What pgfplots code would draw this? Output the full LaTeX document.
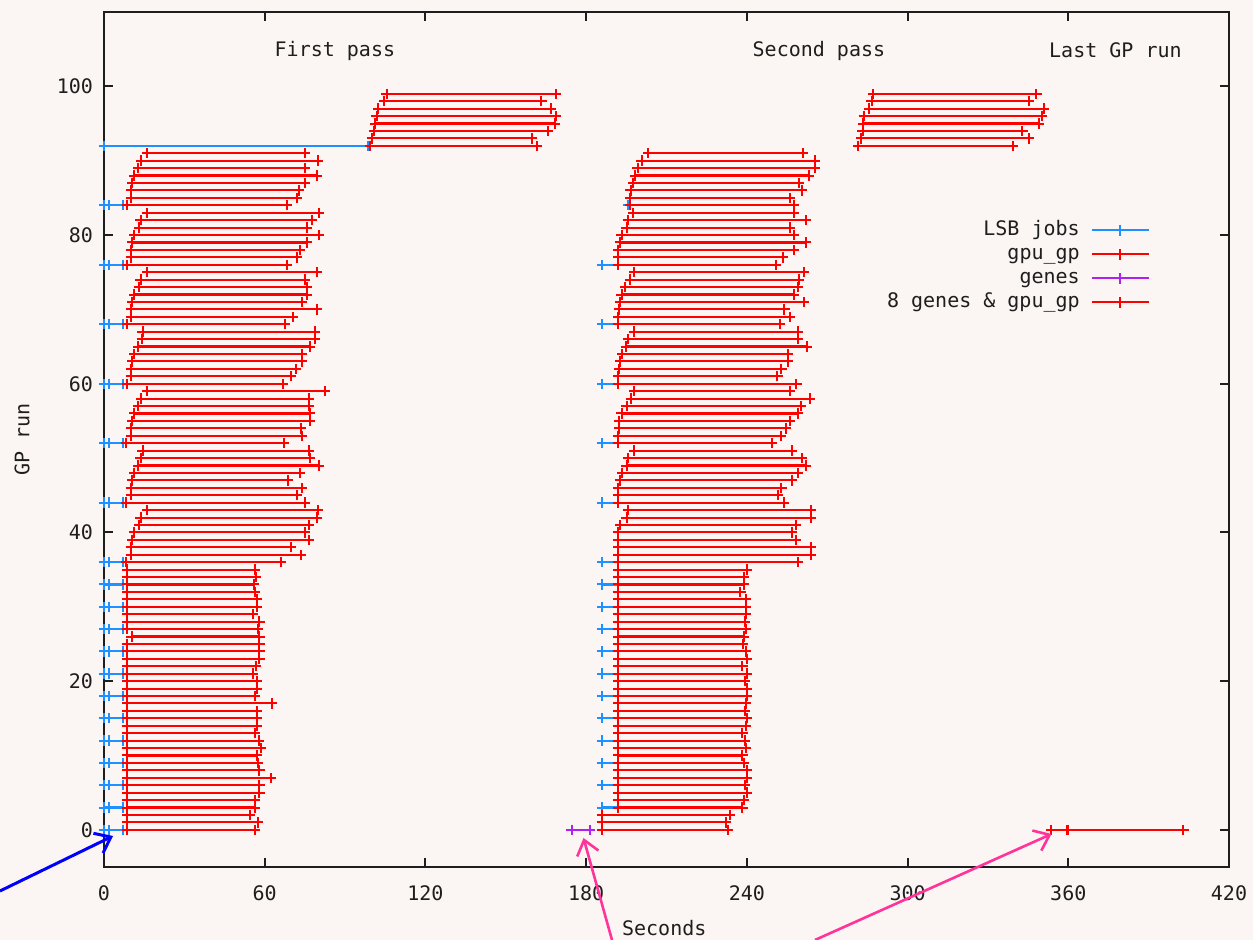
\documentclass[border=0pt]{standalone}
\usepackage{pgfplots}
\pgfplotsset{compat=1.18}
\usepackage{pgfplotstable}
\usepackage{fontspec}
\setmainfont{DejaVu Sans Mono}
\usetikzlibrary{arrows.meta}
\definecolor{bg}{RGB}{251,246,243}
\definecolor{lsb}{RGB}{30,144,255}
\definecolor{gred}{RGB}{255,0,0}
\definecolor{gpur}{RGB}{176,32,240}
\definecolor{pinkarrow}{RGB}{255,51,153}
\definecolor{frame}{RGB}{30,30,30}

% first pass gpu_gp: run, start, end (seconds)
\pgfplotstableread{
r s e
0 8.5 56.4
1 8.5 57.6
2 8.5 54.5
3 8.5 56.4
4 8.5 56.4
5 8.5 58.0
6 8.5 58.0
7 8.5 62.2
8 8.5 58.0
9 8.5 57.6
10 8.5 57.2
11 8.5 58.5
12 8.5 57.9
13 8.5 56.4
14 8.5 57.0
15 8.5 57.0
16 8.5 57.0
17 8.5 62.8
18 8.5 56.4
19 8.5 57.0
20 8.5 57.0
21 8.5 55.7
22 8.5 56.7
23 8.5 58.0
24 8.5 58.0
25 8.5 58.0
26 10.3 58.0
27 8.5 57.6
28 8.5 58.0
29 8.5 55.5
30 8.5 57.0
31 8.5 57.0
32 8.5 56.4
33 8.5 56.1
34 8.5 56.7
35 8.5 56.4
36 8.2 66.1
37 10.0 73.5
38 10.0 69.7
39 10.6 76.5
40 11.3 75.0
41 13.1 76.5
42 13.7 79.4
43 16.2 80.0
44 8.2 75.0
45 10.0 71.9
46 10.0 73.8
47 10.6 68.8
48 11.3 73.2
49 12.8 80.3
50 13.7 76.9
51 14.4 76.5
52 8.2 67.3
53 10.0 74.0
54 10.0 73.5
55 10.6 76.9
56 11.3 76.9
57 12.8 76.5
58 13.8 76.5
59 16.2 82.5
60 8.5 66.7
61 10.0 69.7
62 10.0 71.7
63 10.6 74.0
64 11.3 74.0
65 12.8 76.9
66 14.1 78.8
67 14.4 78.8
68 8.5 67.6
69 10.0 70.4
70 10.0 79.4
71 10.6 73.8
72 11.3 75.6
73 13.1 75.6
74 13.7 75.0
75 16.2 79.4
76 8.5 68.2
77 10.0 71.9
78 10.0 73.2
79 10.6 75.6
80 11.3 80.3
81 13.1 75.6
82 13.7 77.6
83 16.2 80.3
84 8.5 68.2
85 10.0 71.9
86 10.2 72.8
87 10.6 75.0
88 11.3 79.4
89 12.8 75.0
90 13.8 80.0
91 16.2 75.0
92 99.4 161.5
93 100.0 159.6
94 100.8 165.8
95 101.2 168.3
96 101.8 168.7
97 102.4 166.8
98 104.7 163.3
99 105.5 168.7
}\firstpass

% second pass gpu_gp
\pgfplotstableread{
r s e
0 185.9 232.9
1 185.9 232.3
2 185.9 233.8
3 191.9 238.3
4 191.9 238.8
5 191.9 239.9
6 191.9 239.3
7 191.9 239.9
8 191.9 239.9
9 191.9 238.8
10 191.9 238.3
11 191.9 239.6
12 191.9 239.3
13 191.9 238.3
14 191.9 239.6
15 191.9 239.9
16 191.9 239.3
17 191.9 239.6
18 191.9 239.9
19 191.9 239.9
20 191.9 239.3
21 191.9 239.9
22 191.9 238.3
23 191.9 239.9
24 191.9 239.6
25 191.9 238.6
26 191.9 238.8
27 191.9 239.6
28 191.9 239.3
29 191.9 239.6
30 191.9 239.6
31 191.9 239.6
32 191.9 237.6
33 191.9 238.8
34 191.9 238.8
35 191.9 240.1
36 191.9 259.2
37 191.9 263.9
38 191.9 263.9
39 191.9 258.2
40 191.9 256.7
41 192.6 258.2
42 195.1 263.9
43 195.6 263.9
44 191.9 253.8
45 191.9 251.6
46 191.9 252.9
47 192.6 256.7
48 193.5 259.2
49 195.1 262.1
50 195.6 260.4
51 197.9 256.7
52 191.9 249.2
53 191.9 252.7
54 192.4 254.6
55 192.4 256.0
56 193.2 259.2
57 195.1 260.2
58 196.7 263.5
59 197.9 256.0
60 191.9 258.5
61 191.9 251.4
62 192.4 252.9
63 192.6 255.4
64 193.5 255.4
65 194.8 262.3
66 195.6 259.2
67 197.9 259.2
68 191.9 252.3
69 191.9 256.0
70 192.4 254.0
71 192.6 261.4
72 193.2 257.6
73 194.5 259.2
74 196.3 259.5
75 197.9 261.4
76 191.9 250.8
77 191.9 253.6
78 191.9 257.6
79 192.6 262.1
80 193.2 257.6
81 195.1 256.0
82 195.6 262.1
83 197.6 257.6
84 196.3 257.6
85 196.3 256.0
86 196.6 260.4
87 197.6 259.5
88 198.2 263.1
89 199.2 265.4
90 200.7 265.4
91 203.2 261.0
}\secondpass

% last GP run
\pgfplotstableread{
r s e
92 281.6 339.4
93 282.6 345.4
94 283.2 342.9
95 283.5 349.1
96 283.7 350.0
97 285.7 350.9
98 286.6 345.4
99 287.2 348.1
0 360.0 403.0
}\lastrun

% 8 genes & gpu_gp
\pgfplotstableread{
r s e
0 353.7 359.5
}\eightgenes

% genes
\pgfplotstableread{
r s e
0 174.6 181.3
}\genes

% LSB jobs: run, start, end, middle mark
\pgfplotstableread{
r s e m
0 0 7.0 2.0
3 0 7.0 2.0
6 0 7.0 2.0
9 0 7.0 2.0
12 0 7.0 2.0
15 0 7.0 2.0
18 0 7.0 2.0
21 0 7.0 2.0
24 0 7.0 2.0
27 0 7.0 2.0
30 0 7.0 2.0
33 0 7.0 2.0
36 0 7.0 2.0
44 0 7.0 2.0
52 0 7.0 2.0
60 0 7.0 2.0
68 0 7.0 2.0
76 0 7.0 2.0
84 0 7.0 2.0
92 0 98.4 nan
3 186.0 191.9 nan
6 186.0 191.9 nan
9 186.0 191.9 nan
12 186.0 191.9 nan
15 186.0 191.9 nan
18 186.0 191.9 nan
21 186.0 191.9 nan
24 186.0 191.9 nan
27 186.0 191.9 nan
30 186.0 191.9 nan
33 186.0 191.9 nan
36 186.0 191.9 nan
44 186.0 191.9 nan
52 186.0 191.9 nan
60 186.0 191.9 nan
68 186.0 191.9 nan
76 186.0 191.9 nan
84 195.7 196.3 nan
}\lsb

\pgfplotsset{
  seg/.style={only marks, mark=+, color=#1, forget plot,
    mark options={mark size=2.6pt, line width=1pt, #1},
    error bars/x dir=plus, error bars/x explicit, error bars/error mark=+,
    error bars/error bar style={line width=1.05pt, #1},
    error bars/error mark options={mark size=2.6pt, line width=1pt, #1, rotate=90}},
}

\begin{document}
\begin{tikzpicture}
\useasboundingbox (-52pt,-36.5pt) rectangle (574.5pt,433.5pt);
\fill[bg] (-52pt,-36.5pt) rectangle (574.5pt,433.5pt);
\begin{axis}[
  scale only axis, width=562.5pt, height=427.5pt, at={(0,0)}, anchor=south west,
  xmin=0, xmax=420, ymin=-5, ymax=110,
  xtick={0,60,...,420}, ytick={0,20,...,100},
  tick align=inside, major tick length=4.5pt,
  axis line style={line width=1pt, frame},
  every tick/.style={frame, line width=1pt},
  tick label style={font=\fontsize{10}{12}\selectfont, text=frame},
  /pgf/number format/assume math mode=true,
  xticklabel style={yshift=-6pt}, yticklabel style={xshift=-2pt},
  xlabel={Seconds}, ylabel={GP run},
  every axis x label/.style={at={(axis description cs:0.498,-0.0713)}, anchor=center, font=\fontsize{10}{12}\selectfont, text=frame},
  every axis y label/.style={at={(axis description cs:-0.0729,0.5)}, rotate=90, anchor=center, font=\fontsize{10}{12}\selectfont, text=frame},
  clip=false,
  legend image code/.code={\draw[mark repeat=2,mark phase=2,#1] plot coordinates {(0cm,0cm) (0.5cm,0cm) (1cm,0cm)};},
  legend style={at={(axis description cs:0.9298,0.759)}, anchor=north east, draw=none, fill=none, inner sep=0pt,
    font=\fontsize{10}{12}\selectfont, text=frame,
    nodes={inner sep=1pt, text height=7.5pt, text depth=2.5pt},
    /tikz/every odd column/.style={column sep=4.5pt}},
  legend cell align=right, legend plot pos=right,
]
% LSB jobs
\addplot[seg=lsb] table[x=s, y=r, x error expr=\thisrow{e}-\thisrow{s}] {\lsb};
\addplot[only marks, mark=+, lsb, forget plot, mark options={mark size=2.6pt, line width=1pt}] table[x=m, y=r] {\lsb};
% genes
\addplot[seg=gpur] table[x=s, y=r, x error expr=\thisrow{e}-\thisrow{s}] {\genes};
% gpu_gp
\addplot[seg=gred] table[x=s, y=r, x error expr=\thisrow{e}-\thisrow{s}] {\firstpass};
\addplot[seg=gred] table[x=s, y=r, x error expr=\thisrow{e}-\thisrow{s}] {\secondpass};
\addplot[seg=gred] table[x=s, y=r, x error expr=\thisrow{e}-\thisrow{s}] {\lastrun};
\addplot[seg=gred] table[x=s, y=r, x error expr=\thisrow{e}-\thisrow{s}] {\eightgenes};

\addlegendimage{lsb, line width=1pt, mark=+, mark options={mark size=2.6pt}}
\addlegendentry{LSB jobs}
\addlegendimage{gred, line width=1pt, mark=+, mark options={mark size=2.6pt}}
\addlegendentry{gpu\_gp}
\addlegendimage{gpur, line width=1pt, mark=+, mark options={mark size=2.6pt}}
\addlegendentry{genes}
\addlegendimage{gred, line width=1pt, mark=+, mark options={mark size=2.6pt}}
\addlegendentry{8 genes \& gpu\_gp}

\node[font=\fontsize{10}{12}\selectfont, text=frame] at (axis cs:86.2,104.8) {First pass};
\node[font=\fontsize{10}{12}\selectfont, text=frame] at (axis cs:266.9,104.8) {Second pass};
\node[font=\fontsize{10}{12}\selectfont, text=frame] at (axis cs:377.6,104.8) {Last GP run};
\end{axis}
\draw[blue, line width=1.5pt, -{Straight Barb[length=7pt,width=11pt]}] (-52pt,-12pt) -- (4.5pt,15.5pt);
\draw[pinkarrow, line width=1.3pt, -{Straight Barb[length=7pt,width=11pt]}] (254pt,-36.5pt) -- (239.75pt,14.5pt);
\draw[pinkarrow, line width=1.3pt, -{Straight Barb[length=7pt,width=11pt]}] (355.5pt,-36.5pt) -- (473.75pt,16.5pt);
\end{tikzpicture}
\end{document}
